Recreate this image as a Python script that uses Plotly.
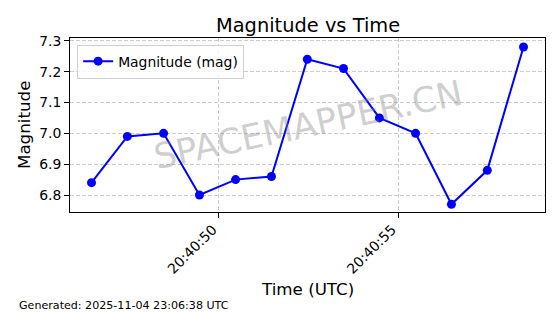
import plotly.graph_objects as go

times = ["2025-11-04 20:40:46.45", "2025-11-04 20:40:47.45", "2025-11-04 20:40:48.46",
         "2025-11-04 20:40:49.46", "2025-11-04 20:40:50.47", "2025-11-04 20:40:51.47",
         "2025-11-04 20:40:52.47", "2025-11-04 20:40:53.48", "2025-11-04 20:40:54.48",
         "2025-11-04 20:40:55.49", "2025-11-04 20:40:56.49", "2025-11-04 20:40:57.49",
         "2025-11-04 20:40:58.50"]
magnitude = [6.84, 6.99, 7.00, 6.80, 6.85, 6.86, 7.24, 7.21, 7.05, 7.00, 6.77, 6.88, 7.28]
x_ticks = ["2025-11-04 20:40:50", "2025-11-04 20:40:55"]
x_tick_labels = ["20:40:50", "20:40:55"]
y_ticks = [6.8, 6.9, 7.0, 7.1, 7.2, 7.3]
y_tick_labels = ["6.8", "6.9", "7.0", "7.1", "7.2", "7.3"]

FONT = "DejaVu Sans"

fig = go.Figure()
fig.add_trace(go.Scatter(
    x=times, y=magnitude, mode="lines+markers", name="Magnitude (mag)",
    line=dict(color="#0000ff", width=2),
    marker=dict(color="#0000ff", size=9),
))

axis_common = dict(
    showline=True, linecolor="black", linewidth=1, mirror=True,
    ticks="outside", ticklen=5, tickcolor="black", tickwidth=1,
    showgrid=True, gridcolor="#cccccc", griddash="4px,2px", gridwidth=1,
    zeroline=False, tickfont=dict(family=FONT, size=13.9, color="black"),
)

fig.update_layout(
    width=560, height=314,
    margin=dict(l=70, r=15, t=38, b=102),
    paper_bgcolor="white", plot_bgcolor="white",
    font=dict(family=FONT, color="black"),
    showlegend=True,
    legend=dict(x=0.015, y=0.962, xanchor="left", yanchor="top",
                bgcolor="rgba(255,255,255,0.8)", bordercolor="#d0d0d0", borderwidth=1,
                font=dict(family=FONT, size=13.9, color="black")),
    xaxis=dict(axis_common, type="date",
               range=["2025-11-04 20:40:45.85", "2025-11-04 20:40:59.10"],
               tickmode="array", tickvals=x_ticks, ticktext=x_tick_labels, tickangle=-45,
               ticklabelshift=-6, ticklabelstandoff=-2),
    yaxis=dict(axis_common, range=[6.745, 7.309],
               tickmode="array", tickvals=y_ticks, ticktext=y_tick_labels),
    annotations=[
        dict(text="Magnitude vs Time", xref="paper", yref="paper", x=0.5, y=1,
             yshift=13, xanchor="center", yanchor="middle", showarrow=False,
             font=dict(family=FONT, size=19.4, color="black")),
        dict(text="Time (UTC)", xref="paper", yref="paper", x=0.5, y=0,
             yshift=-77, xanchor="center", yanchor="middle", showarrow=False,
             font=dict(family=FONT, size=16.7, color="black")),
        dict(text="Magnitude", xref="paper", yref="paper", x=0, y=0.5,
             xshift=-46, xanchor="center", yanchor="middle", showarrow=False, textangle=-90,
             font=dict(family=FONT, size=16.7, color="black")),
        dict(text="Generated: 2025-11-04 23:06:38 UTC", xref="paper", yref="paper", x=0, y=0,
             xshift=-53, yshift=-93, xanchor="left", yanchor="middle", showarrow=False,
             font=dict(family=FONT, size=11.1, color="black")),
        dict(text="SPACEMAPPER.CN", xref="paper", yref="paper", x=0.5, y=0.5,
             xanchor="center", yanchor="middle", showarrow=False, textangle=-12,
             font=dict(family=FONT, size=35, color="rgba(128,128,128,0.38)")),
    ],
)

fig.write_html("out.html")
